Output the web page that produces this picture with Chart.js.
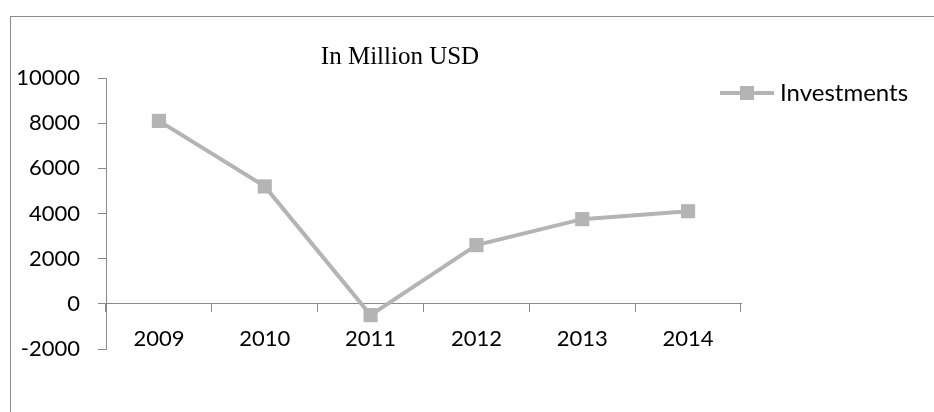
<!DOCTYPE html>
<html>
<head>
<meta charset="utf-8">
<script src="https://cdn.jsdelivr.net/npm/chart.js@4/dist/chart.umd.min.js"></script>
<style>
  html, body { margin: 0; padding: 0; background: #fff; }
  #wrap { position: relative; width: 934px; height: 412px; }
  #frame { position: absolute; left: 10px; top: 16px; right: 0; bottom: 0;
           border-left: 1px solid #8a8a8a; border-top: 1px solid #8a8a8a; pointer-events: none; }
</style>
</head>
<body>
<div id="wrap">
  <canvas id="chart" width="934" height="412"></canvas>
  <div id="frame"></div>
</div>
<script>
// data
const years = ['2009', '2010', '2011', '2012', '2013', '2014'];
const investments = [8100, 5200, -500, 2600, 3750, 4100];
const seriesName = 'Investments';
const chartTitle = 'In Million USD';

const lineGrey = '#b4b4b4';
const axisGrey = '#8a8a8a';
const labelFont = { family: 'Lato', size: 22 };

// title + legend drawn by hand, Excel style
const decor = {
    id: 'decor',
    afterDraw(chart) {
        const ctx = chart.ctx;
        ctx.save();
        ctx.fillStyle = '#000';
        ctx.font = '25px "Liberation Serif"';
        ctx.textAlign = 'center';
        ctx.textBaseline = 'middle';
        ctx.fillText(chartTitle, 400, 57);

        // legend
        const y = 93;
        ctx.strokeStyle = lineGrey;
        ctx.lineWidth = 4;
        ctx.beginPath();
        ctx.moveTo(720, y);
        ctx.lineTo(774, y);
        ctx.stroke();
        ctx.fillStyle = lineGrey;
        ctx.fillRect(740, y - 7, 14, 14);
        ctx.fillStyle = '#000';
        ctx.font = '24px Lato';
        ctx.textAlign = 'left';
        ctx.fillText(chart.data.datasets[0].label, 780, y);
        ctx.restore();
    }
};

new Chart(document.getElementById('chart'), {
    type: 'line',
    data: {
        labels: years,
        datasets: [{
            label: seriesName,
            data: investments,
            borderColor: lineGrey,
            backgroundColor: lineGrey,
            borderWidth: 4,
            pointStyle: 'rect',
            pointRadius: 10,
            pointBorderWidth: 0,
            pointBackgroundColor: lineGrey,
            tension: 0
        }]
    },
    options: {
        responsive: false,
        animation: false,
        layout: { padding: { left: 0, top: 78, right: 193, bottom: 63 } },
        plugins: { legend: { display: false }, title: { display: false }, tooltip: { enabled: false } },
        scales: {
            x: {
                position: { y: 0 },
                offset: true,
                grid: { offset: true, drawOnChartArea: false, drawTicks: true, tickLength: 8, color: axisGrey },
                border: { color: axisGrey },
                ticks: { color: '#000', font: labelFont, padding: 14, maxRotation: 0 }
            },
            y: {
                min: -2000,
                max: 10000,
                afterFit(scale) { scale.width = 106; },
                grid: { drawOnChartArea: false, drawTicks: true, tickLength: 8, color: axisGrey },
                border: { color: axisGrey },
                ticks: { stepSize: 2000, color: '#000', font: labelFont, padding: 18, callback: v => String(v) }
            }
        }
    },
    plugins: [decor]
});
</script>
</body>
</html>
